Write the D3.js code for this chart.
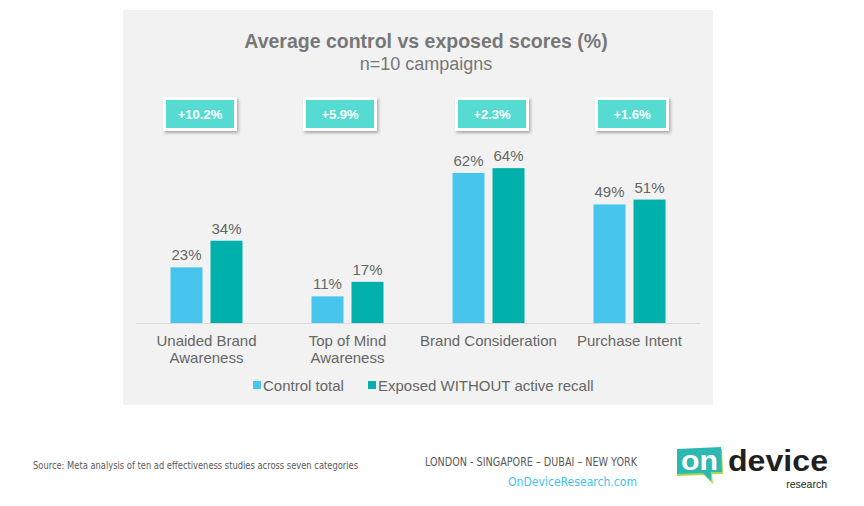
<!DOCTYPE html>
<html><head><meta charset="utf-8">
<script src="https://cdn.jsdelivr.net/npm/d3@7"></script>
<style>body{margin:0;background:#fff;} svg{display:block;font-family:"Liberation Sans",Arial,sans-serif;}</style>
</head><body>
<svg id="c" width="864" height="506"></svg>
<script>
const categories = [["Unaided Brand","Awareness"],["Top of Mind","Awareness"],["Brand Consideration"],["Purchase Intent"]];
const seriesNames = ["Control total","Exposed WITHOUT active recall"];
const controlValues = [23, 11, 62, 49];
const exposedValues = [34, 17, 64, 51];
const upliftLabels = ["+10.2%","+5.9%","+2.3%","+1.6%"];
const colors = ["#48c5ec","#00b1ab"];

const svg = d3.select("#c");
const defs = svg.append("defs");
const f = defs.append("filter").attr("id","sh").attr("x","-20%").attr("y","-20%").attr("width","150%").attr("height","160%");
f.append("feDropShadow").attr("dx",1.5).attr("dy",2).attr("stdDeviation",1.5).attr("flood-color","#000").attr("flood-opacity",0.3);

// panel
svg.append("rect").attr("x",123).attr("y",10).attr("width",590).attr("height",395).attr("fill","#f2f2f2");

svg.append("text").attr("x",426).attr("y",48).attr("text-anchor","middle")
  .attr("font-size",19.5).attr("font-weight","bold").attr("fill","#777").text("Average control vs exposed scores (%)");
svg.append("text").attr("x",426).attr("y",70).attr("text-anchor","middle")
  .attr("font-size",18).attr("fill","#777").text("n=10 campaigns");

const idx = d3.range(categories.length);
const x0 = d3.scaleBand().domain(idx).range([136,700]).padding(0);
const x1 = d3.scaleBand().domain([0,1]).range([-36,36]).paddingInner(0.2);
const y = d3.scaleLinear().domain([0,100]).range([323,81]);

svg.append("line").attr("x1",136).attr("x2",700).attr("y1",y(0)+0.5).attr("y2",y(0)+0.5).attr("stroke","#d9d9d9").attr("stroke-width",1);

const series = [controlValues, exposedValues];
series.forEach((vals, s) => {
  const g = svg.append("g");
  g.selectAll("rect").data(vals).join("rect")
    .attr("x",(d,i)=>x0(i)+x0.bandwidth()/2+x1(s))
    .attr("y",d=>y(d)).attr("width",x1.bandwidth()).attr("height",d=>y(0)-y(d))
    .attr("fill",colors[s]);
  g.selectAll("text").data(vals).join("text")
    .attr("x",(d,i)=>x0(i)+x0.bandwidth()/2+x1(s)+x1.bandwidth()/2)
    .attr("y",d=>y(d)-7).attr("text-anchor","middle").attr("font-size",15).attr("fill","#666")
    .text(d=>d+"%");
});

// category labels
const cl = svg.append("g");
categories.forEach((lines,i)=>{
  const t = cl.append("text").attr("x",x0(i)+x0.bandwidth()/2).attr("y",346).attr("text-anchor","middle").attr("font-size",15).attr("fill","#666");
  lines.forEach((ln,j)=>t.append("tspan").attr("x",x0(i)+x0.bandwidth()/2).attr("dy",j?17:0).text(ln));
});

// legend
const leg = [{x:253},{x:368}];
seriesNames.forEach((n,s)=>{
  svg.append("rect").attr("x",leg[s].x).attr("y",381).attr("width",8).attr("height",8).attr("fill",colors[s]);
  svg.append("text").attr("x",leg[s].x+10).attr("y",391).attr("font-size",15).attr("fill","#666").text(n);
});

// uplift badges
const bx = [200,340,492,632];
upliftLabels.forEach((lab,i)=>{
  const g = svg.append("g").attr("transform",`translate(${bx[i]},114)`);
  g.append("rect").attr("x",-37).attr("y",-17).attr("width",74).attr("height",34).attr("fill","#fff").attr("filter","url(#sh)");
  g.append("rect").attr("x",-34).attr("y",-14).attr("width",68).attr("height",28).attr("fill","#56dbd3");
  g.append("text").attr("y",5).attr("text-anchor","middle").attr("font-size",13).attr("font-weight","bold").attr("fill","#fff").text(lab);
});

// footer
const narrow = "'Liberation Sans Narrow','DejaVu Sans Condensed',sans-serif";
svg.append("text").attr("x",33).attr("y",469).attr("font-size",10).attr("fill","#595959")
  .attr("font-family",narrow).attr("textLength",325).attr("lengthAdjust","spacingAndGlyphs")
  .text("Source: Meta analysis of ten ad effectiveness studies across seven categories");
svg.append("text").attr("x",425).attr("y",466).attr("font-size",11.5).attr("fill","#595959")
  .attr("font-family",narrow).attr("textLength",212).attr("lengthAdjust","spacingAndGlyphs")
  .text("LONDON - SINGAPORE \u2013 DUBAI \u2013 NEW YORK");
svg.append("text").attr("x",508).attr("y",486).attr("font-size",13).attr("fill","#3fc3ec")
  .attr("font-family",narrow).attr("textLength",129).attr("lengthAdjust","spacingAndGlyphs")
  .text("OnDeviceResearch.com");

// logo
const lg = svg.append("g");
lg.append("path").attr("d","M678,451 L722,449 L723,474 L712,474 L713,484 L704,475 L677,476 Z").attr("fill","#a6d94b");
lg.append("path").attr("d","M677,449 L721,447 L722,472 L711,472 L711,481 L703,473 L677,474 Z").attr("fill","#2cb8b0");
lg.append("text").attr("x",681).attr("y",470).attr("font-size",28).attr("font-weight","bold").attr("fill","#fff")
  .attr("textLength",37).attr("lengthAdjust","spacingAndGlyphs").text("on");
lg.append("text").attr("x",728).attr("y",471).attr("font-size",30).attr("font-weight","bold").attr("fill","#231f20")
  .attr("textLength",100).attr("lengthAdjust","spacingAndGlyphs").text("device");
lg.append("text").attr("x",827).attr("y",488).attr("text-anchor","end").attr("font-size",10.5).attr("fill","#231f20").text("research");
</script>
</body></html>
